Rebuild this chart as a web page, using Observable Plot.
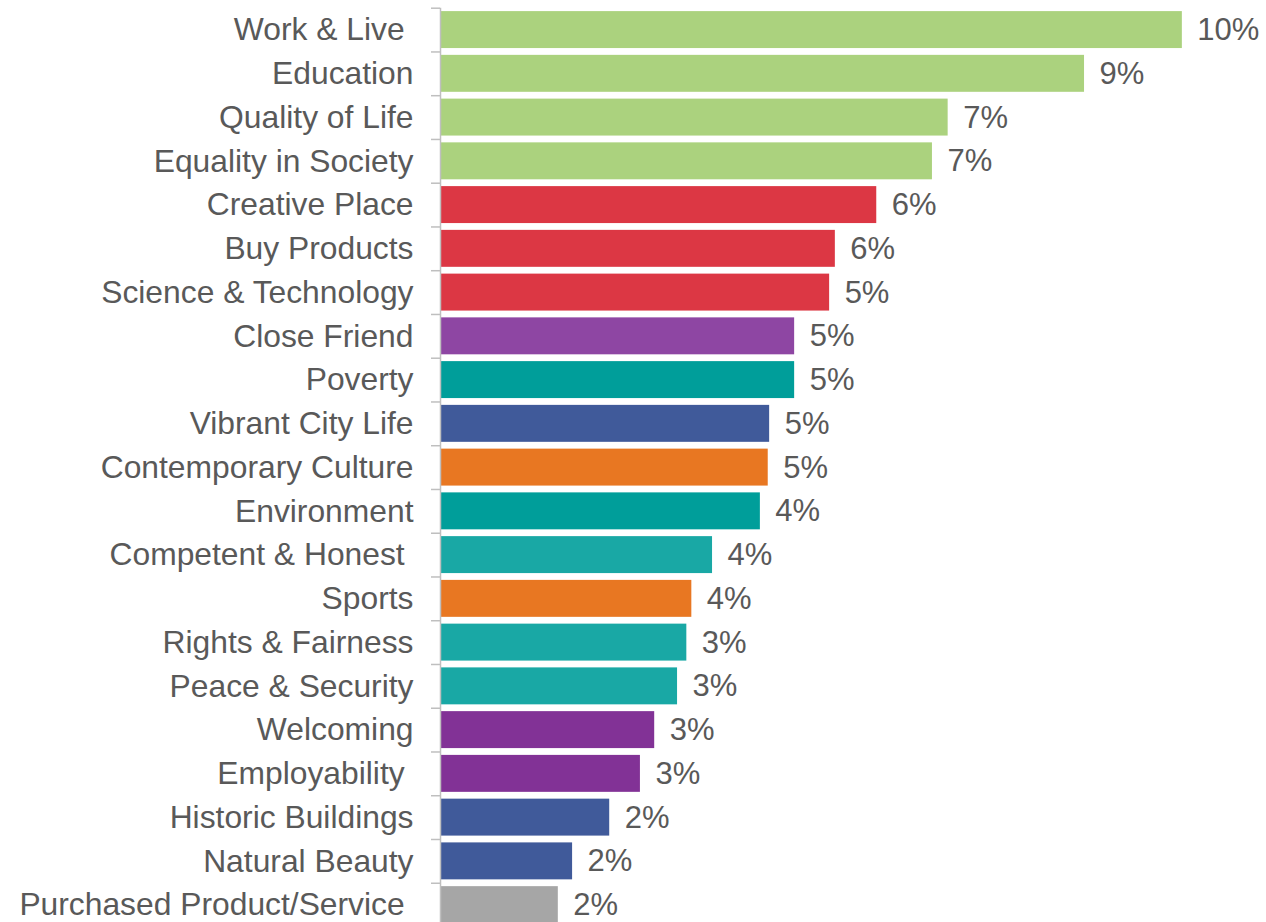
<!DOCTYPE html>
<html>
<head>
<meta charset="utf-8">
<script src="https://cdn.jsdelivr.net/npm/d3@7"></script>
<script src="https://cdn.jsdelivr.net/npm/@observablehq/plot@0.6"></script>
<style>
  html, body { margin: 0; padding: 0; background: #fff; overflow: hidden; }
  #chart svg text { white-space: pre; }
</style>
</head>
<body>
<div id="chart"></div>
<script>
const categories = [
  "Work & Live ", "Education", "Quality of Life", "Equality in Society",
  "Creative Place", "Buy Products", "Science & Technology", "Close Friend",
  "Poverty", "Vibrant City Life", "Contemporary Culture", "Environment",
  "Competent & Honest ", "Sports", "Rights & Fairness", "Peace & Security",
  "Welcoming", "Employability ", "Historic Buildings", "Natural Beauty",
  "Purchased Product/Service "
];
const values = [
  10.39, 9.02, 7.11, 6.89,
  6.11, 5.53, 5.45, 4.96,
  4.96, 4.61, 4.59, 4.48,
  3.81, 3.52, 3.45, 3.32,
  3.00, 2.80, 2.37, 1.85,
  1.65
];
const colors = [
  "#abd27e", "#abd27e", "#abd27e", "#abd27e",
  "#dc3744", "#dc3744", "#dc3744", "#8e46a3",
  "#009e9a", "#405a9a", "#e87722", "#009e9a",
  "#19a8a5", "#e87722", "#19a8a5", "#19a8a5",
  "#823296", "#823296", "#405a9a", "#405a9a",
  "#a6a6a6"
];

const data = categories.map((c, i) => ({category: c, value: values[i], color: colors[i]}));

const width = 1266, height = 926.5, marginTop = 7.7, marginBottom = 0, marginLeft = 440, marginRight = 0;
const step = (height - marginTop - marginBottom) / categories.length;
const pxPerUnit = 71.4;
const xMax = (width - marginLeft - marginRight) / pxPerUnit;

const chart = Plot.plot({
  width, height, marginTop, marginBottom, marginLeft, marginRight,
  style: {fontFamily: "'Liberation Sans', Arial, sans-serif", background: "#fff"},
  x: {domain: [0, xMax], axis: null},
  y: {domain: categories, padding: 0, round: false, axis: null},
  marks: [
    Plot.axisY({
      tickSize: 9, tickFormat: () => "", dy: -step / 2,
      stroke: "#bfbfbf", strokeWidth: 1.5, label: null
    }),
    Plot.barX(data, {y: "category", x: "value", fill: "color", insetTop: 3.4, insetBottom: 3.4}),
    Plot.ruleX([0], {stroke: "#bfbfbf", strokeWidth: 1.5}),
    Plot.text(data, {
      y: "category", x: 0, text: "category", textAnchor: "end", dx: -27,
      fontSize: 31.8, fill: "#595959"
    }),
    Plot.text(data, {
      y: "category", x: "value", text: d => Math.round(d.value) + "%",
      textAnchor: "start", dx: 15, fontSize: 31, fill: "#595959"
    })
  ]
});
document.getElementById("chart").appendChild(chart);
</script>
</body>
</html>
